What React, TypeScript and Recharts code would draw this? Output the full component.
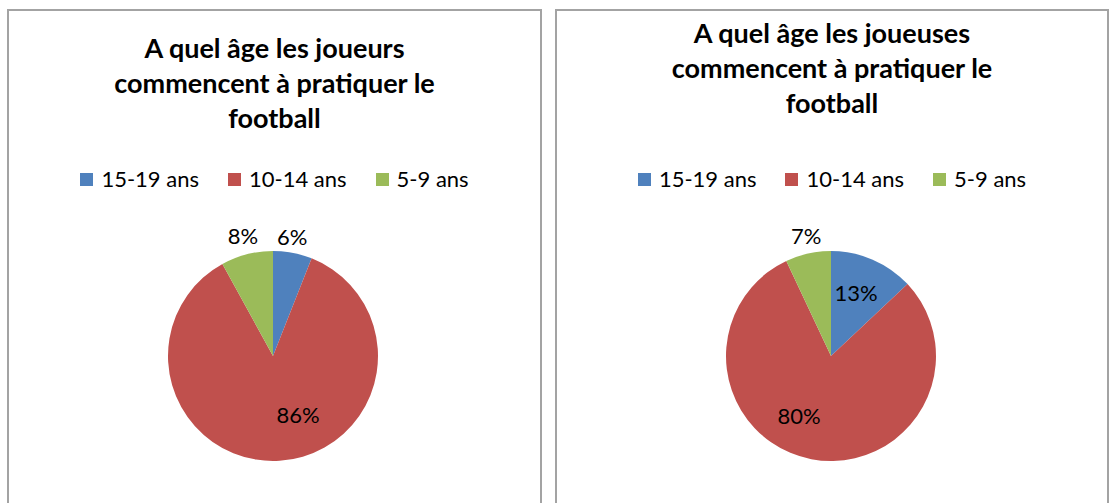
import React from 'react';
import { PieChart, Pie, Cell, Legend } from 'recharts';

const categories = ['15-19 ans', '10-14 ans', '5-9 ans'];
const joueursValues = [6, 86, 8];
const joueusesValues = [13, 80, 7];
const joueursTitle = ['A quel âge les joueurs', 'commencent à pratiquer le', 'football'];
const joueusesTitle = ['A quel âge les joueuses', 'commencent à pratiquer le', 'football'];
const colors = ['#4F81BD', '#C0504D', '#9BBB59'];

// label placement: radius factor (of outer radius) and angular shift in degrees
const joueursLabelPlacement = [
  { r: 1.157, shift: 1.7 },
  { r: 0.61, shift: 19.5 },
  { r: 1.18, shift: -0.4 },
];
const joueusesLabelPlacement = [
  { r: 0.65, shift: 1.9 },
  { r: 0.64, shift: -17.5 },
  { r: 1.17, shift: -0.9 },
];

const FONT = 'Lato, "Noto Sans", sans-serif';

const makeLabel = (placement: { r: number; shift: number }[]) => (props: any) => {
  const { cx, cy, midAngle, outerRadius, index, value } = props;
  const p = placement[index];
  const ang = ((midAngle + p.shift) * Math.PI) / 180;
  const x = cx + outerRadius * p.r * Math.cos(ang);
  const y = cy - outerRadius * p.r * Math.sin(ang);
  return (
    <text
      x={x}
      y={y}
      textAnchor="middle"
      dominantBaseline="central"
      fill="#000"
      fontSize={22}
      fontFamily={FONT}
    >{`${value}%`}</text>
  );
};

const renderLegend = (props: any) => {
  const payload = [...(props.payload || [])].sort(
    (a: any, b: any) => categories.indexOf(a.value) - categories.indexOf(b.value)
  );
  return (
    <div
      style={{
        display: 'flex',
        justifyContent: 'center',
        gap: 29,
        fontFamily: FONT,
        fontSize: 22,
        lineHeight: '22px',
        color: '#000',
      }}
    >
      {payload.map((entry: any, i: number) => {
        const idx = categories.indexOf(entry.value);
        return (
          <div key={i} style={{ display: 'flex', alignItems: 'center' }}>
            <span
              style={{
                width: 13,
                height: 13,
                background: idx >= 0 ? colors[idx] : entry.color,
                marginRight: 8,
                display: 'inline-block',
              }}
            />
            <span>{entry.value}</span>
          </div>
        );
      })}
    </div>
  );
};

type PanelProps = {
  left: number;
  width: number;
  titleTop: number;
  titleLines: string[];
  values: number[];
  placement: { r: number; shift: number }[];
  cx: number;
  cy: number;
};

const Panel = ({ left, width, titleTop, titleLines, values, placement, cx, cy }: PanelProps) => {
  const data = categories.map((name, i) => ({ name, value: values[i], fill: colors[i] }));
  return (
    <div
      style={{
        position: 'absolute',
        left,
        top: 9,
        width,
        height: 510,
        border: '2px solid #a3a3a3',
        background: '#fff',
      }}
    >
      <PieChart width={width} height={480} margin={{ top: 0, right: 0, bottom: 0, left: 0 }}>
        <Legend
          verticalAlign="middle"
          align="center"
          layout="horizontal"
          itemSorter={null as any}
          content={renderLegend}
          wrapperStyle={{ position: 'absolute', top: 157, left: 0, width }}
        />
        <Pie
          data={data}
          dataKey="value"
          nameKey="name"
          cx={cx}
          cy={cy}
          outerRadius={105}
          startAngle={90}
          endAngle={-270}
          stroke="none"
          labelLine={false}
          label={makeLabel(placement)}
          isAnimationActive={false}
        >
          {data.map((d, i) => (
            <Cell key={i} fill={colors[i]} />
          ))}
        </Pie>
      </PieChart>
      <div
        style={{
          position: 'absolute',
          left: 0,
          top: titleTop,
          width,
          textAlign: 'center',
          fontFamily: FONT,
          fontWeight: 700,
          fontSize: 27,
          lineHeight: '35px',
          color: '#000',
        }}
      >
        {titleLines.map((l, i) => (
          <div key={i}>{l}</div>
        ))}
      </div>
    </div>
  );
};

export default function App() {
  return (
    <div
      style={{
        position: 'absolute',
        left: 0,
        top: 0,
        width: 1113,
        height: 503,
        overflow: 'hidden',
        background: '#fff',
      }}
    >
      <Panel
        left={7}
        width={531}
        titleTop={19}
        titleLines={joueursTitle}
        values={joueursValues}
        placement={joueursLabelPlacement}
        cx={264}
        cy={345}
      />
      <Panel
        left={555}
        width={550}
        titleTop={4}
        titleLines={joueusesTitle}
        values={joueusesValues}
        placement={joueusesLabelPlacement}
        cx={274}
        cy={345}
      />
    </div>
  );
}
